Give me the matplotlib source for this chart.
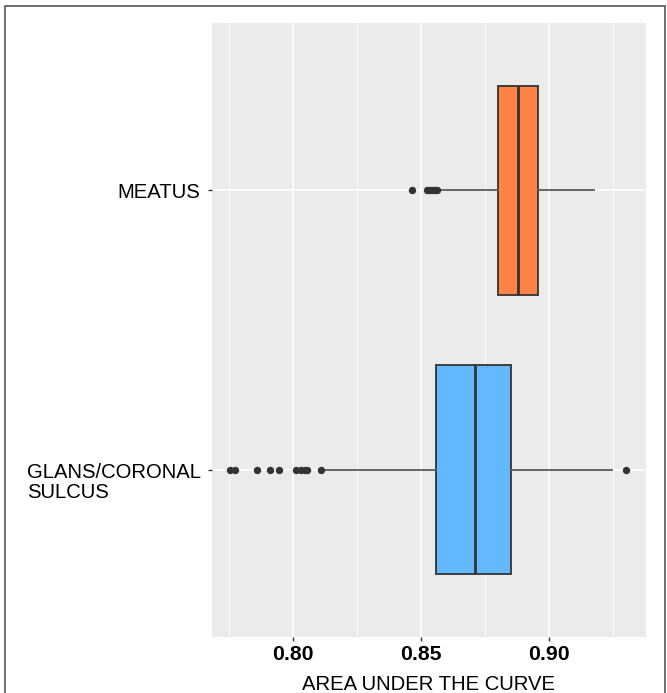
import matplotlib
matplotlib.use("Agg")
import matplotlib.pyplot as plt
from matplotlib.patches import Rectangle
from matplotlib.transforms import blended_transform_factory, ScaledTranslation
from matplotlib.ticker import MultipleLocator

plt.rcParams['font.family'] = ['Liberation Sans', 'DejaVu Sans']

# data (AUC per site)
sites = ['GLANS/CORONAL\nSULCUS', 'MEATUS']
q1 = [0.8559, 0.8800]
med = [0.8711, 0.8878]
q3 = [0.8850, 0.8958]
whis_lo = [0.8115, 0.8572]
whis_hi = [0.9247, 0.9176]
outliers_glans = [0.7752, 0.7772, 0.7858, 0.7910, 0.7945, 0.8012, 0.8030,
                  0.8045, 0.8056, 0.8108, 0.9302]
outliers_meatus = [0.8466, 0.8525, 0.8535, 0.8545, 0.8556, 0.8563]
colors = ['#63B8FF', '#FF8247']

stats = []
for i, fl in enumerate([outliers_glans, outliers_meatus]):
    stats.append(dict(q1=q1[i], med=med[i], q3=q3[i], whislo=whis_lo[i],
                      whishi=whis_hi[i], fliers=fl, label=sites[i]))

fig = plt.figure(figsize=(6.67, 6.93), dpi=100)
ax = fig.add_axes([212 / 667, 56 / 693, 434 / 667, 614 / 693])
ax.set_facecolor('#EBEBEB')

bp = ax.bxp(stats, positions=[1, 2], vert=False, widths=0.75, patch_artist=True,
            showcaps=False,
            boxprops=dict(edgecolor='#333333', linewidth=1.3),
            medianprops=dict(color='#333333', linewidth=2.0),
            whiskerprops=dict(color='#595959', linewidth=1.3),
            flierprops=dict(marker='o', markerfacecolor='#333333',
                            markeredgecolor='#333333', markersize=4.3),
            zorder=3)
for patch, c in zip(bp['boxes'], colors):
    patch.set_facecolor(c)

ax.set_xlim(0.76836, 0.93789)
ax.set_ylim(0.4, 2.6)
ax.xaxis.set_major_locator(MultipleLocator(0.05))
ax.xaxis.set_minor_locator(MultipleLocator(0.025))
ax.grid(True, which='major', color='white', linewidth=1.2, zorder=0)
ax.grid(True, which='minor', axis='x', color='white', linewidth=0.6, zorder=0)
ax.set_axisbelow(True)
for s in ax.spines.values():
    s.set_visible(False)

ax.set_xticks([0.80, 0.85, 0.90])
ax.set_xticklabels(['0.80', '0.85', '0.90'], fontsize=15.3, fontweight='bold',
                   color='black')
ax.set_yticks([1, 2])
ax.set_yticklabels(['', 'MEATUS'], fontsize=14.6, color='black')
ax.tick_params(axis='both', which='major', length=3.2, width=1.0, color='#333333')
ax.tick_params(axis='x', which='minor', length=0)
ax.tick_params(axis='x', pad=2.5)
ax.tick_params(axis='y', pad=5.5)

# two-line label, first line level with its tick
trans = blended_transform_factory(fig.transFigure, ax.transData)
trans = trans + ScaledTranslation(0, -28.5 / 100, fig.dpi_scale_trans)
ax.text(27 / 667, 1, sites[0], transform=trans, ha='left', va='baseline',
        fontsize=14.6, color='black', linespacing=1.1)

ax.set_xlabel('AREA UNDER THE CURVE', fontsize=14.6, color='black', labelpad=8)

# outer frame
fig.patches.append(Rectangle((5 / 667, -0.02), 660 / 667, 1.02 - 6 / 693,
                             transform=fig.transFigure, fill=False,
                             edgecolor='#555555', linewidth=1.2))

fig.savefig('out.png', dpi=100)
